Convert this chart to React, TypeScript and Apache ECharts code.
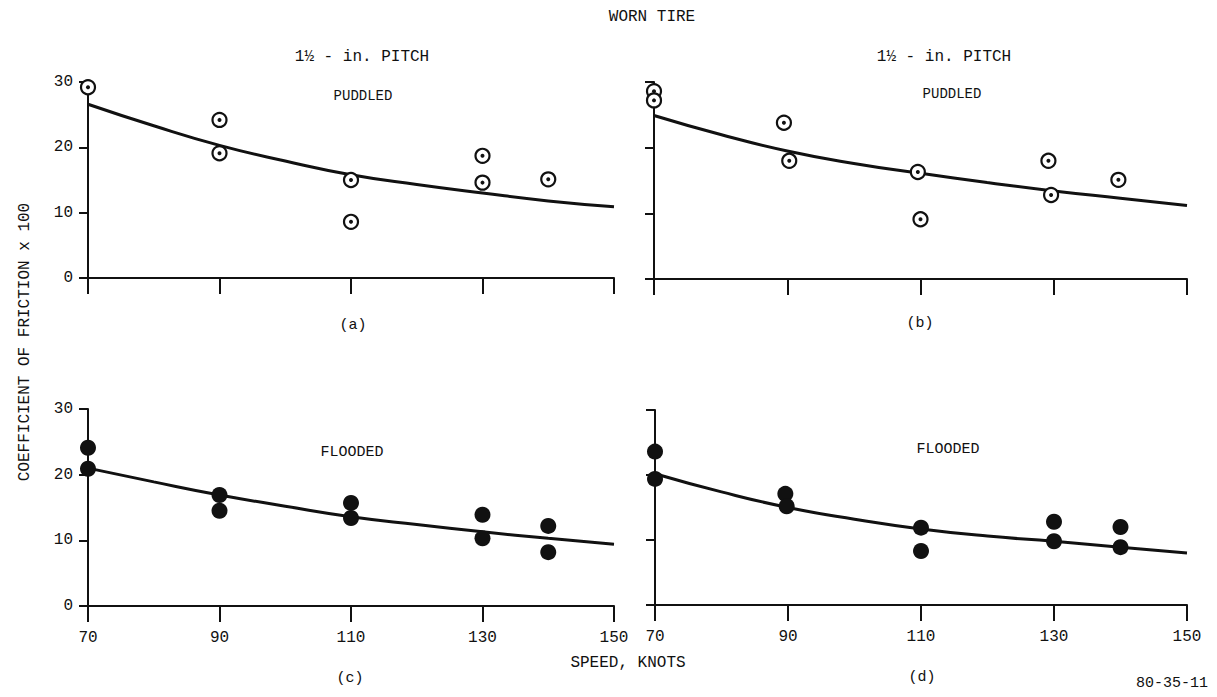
import React, { useEffect, useRef } from "react";
import * as echarts from "echarts";

const speedTicks = [70, 90, 110, 130, 150];
const frictionTicks = [0, 10, 20, 30];
const curveSpeeds = [70, 80, 90, 100, 110, 120, 130, 140, 150];

const curveA = [26.6, 23.3, 20.3, 17.9, 15.8, 14.3, 13.0, 11.8, 10.9];
const curveB = [24.9, 22.0, 19.5, 17.6, 16.1, 14.7, 13.4, 12.3, 11.2];
const curveC = [21.0, 18.9, 16.9, 15.2, 13.6, 12.4, 11.3, 10.3, 9.4];
const curveD = [20.2, 17.4, 15.0, 13.2, 11.7, 10.6, 9.8, 8.9, 8.0];

const pointsA = [[70, 29.2], [90, 24.2], [90, 19.1], [110, 15.0], [110, 8.6], [130, 18.7], [130, 14.6], [140, 15.1]];
const pointsB = [[70, 28.6], [70, 27.2], [89.5, 23.8], [90.3, 18.0], [109.6, 16.3], [110, 9.1], [129.2, 18.0], [129.6, 12.8], [139.7, 15.1]];
const pointsC = [[70, 24.1], [70, 20.9], [90, 16.9], [90, 14.5], [110, 15.7], [110, 13.4], [130, 13.9], [130, 10.3], [140, 12.2], [140, 8.2]];
const pointsD = [[70, 23.6], [70, 19.4], [89.6, 17.1], [89.8, 15.2], [110, 11.9], [110, 8.3], [130, 12.8], [130, 9.8], [140, 12.0], [140, 8.9]];

const FONT = "Liberation Mono";
const INK = "#111";

export default function App() {
  const ref = useRef<HTMLDivElement>(null);
  useEffect(() => {
    const chart = echarts.init(ref.current!, null, { renderer: "svg" });
    const grids = [
      { left: 88, top: 82, width: 526, height: 196 },
      { left: 654, top: 82, width: 533, height: 197 },
      { left: 88, top: 409, width: 526, height: 197 },
      { left: 655, top: 410, width: 532, height: 195 },
    ];
    const xAxes = grids.map((_, i) => ({
      type: "value",
      gridIndex: i,
      min: 70,
      max: 150,
      splitLine: { show: false },
      axisLine: { lineStyle: { color: INK, width: 2 } },
      axisTick: { customValues: speedTicks, length: 16, lineStyle: { color: INK, width: 2 } },
      axisLabel: {
        show: i >= 2,
        customValues: speedTicks,
        margin: 24,
        fontFamily: FONT,
        fontSize: 16,
        color: INK,
      },
    }));
    const yAxes = grids.map((_, i) => ({
      type: "value",
      gridIndex: i,
      min: 0,
      max: 30,
      interval: 10,
      splitLine: { show: false },
      axisLine: { lineStyle: { color: INK, width: 2 } },
      axisTick: { length: 9, lineStyle: { color: INK, width: 2 } },
      axisLabel: {
        show: i % 2 === 0,
        customValues: frictionTicks,
        margin: 15,
        fontFamily: FONT,
        fontSize: 16,
        color: INK,
      },
    }));
    const curves = [curveA, curveB, curveC, curveD];
    const series: any[] = [];
    curves.forEach((c, i) => {
      series.push({
        type: "line",
        xAxisIndex: i,
        yAxisIndex: i,
        data: curveSpeeds.map((s, k) => [s, c[k]]),
        smooth: 0.5,
        showSymbol: false,
        lineStyle: { color: INK, width: 3 },
        z: 2,
      });
    });
    [pointsA, pointsB].forEach((p, i) => {
      series.push({
        type: "scatter",
        xAxisIndex: i,
        yAxisIndex: i,
        data: p,
        symbol: "circle",
        symbolSize: 14,
        clip: false,
        itemStyle: { color: "#fff", borderColor: INK, borderWidth: 2.2, opacity: 1 },
        z: 3,
      });
      series.push({
        type: "scatter",
        xAxisIndex: i,
        yAxisIndex: i,
        data: p,
        symbol: "circle",
        symbolSize: 4,
        clip: false,
        itemStyle: { color: INK, opacity: 1 },
        z: 4,
      });
    });
    [pointsC, pointsD].forEach((p, j) => {
      const i = j + 2;
      series.push({
        type: "scatter",
        xAxisIndex: i,
        yAxisIndex: i,
        data: p,
        symbol: "circle",
        symbolSize: 16,
        clip: false,
        itemStyle: { color: INK, opacity: 1 },
        z: 3,
      });
    });

    const txt = (text: string, x: number, y: number, size = 15, extra: any = {}) => ({
      type: "text",
      x,
      y,
      style: {
        text,
        fontFamily: FONT,
        fontSize: size,
        fill: INK,
        align: "center",
        verticalAlign: "middle",
      },
      ...extra,
    });

    chart.setOption({
      animation: false,
      backgroundColor: "#fff",
      grid: grids,
      xAxis: xAxes,
      yAxis: yAxes,
      series,
      graphic: [
        txt("WORN TIRE", 652, 17, 16),
        txt("1½ - in. PITCH", 362, 57, 16),
        txt("1½ - in. PITCH", 944, 57, 16),
        txt("PUDDLED", 363, 96, 14),
        txt("PUDDLED", 952, 94, 14),
        txt("FLOODED", 352, 452, 15),
        txt("FLOODED", 948, 449, 15),
        txt("(a)", 353, 325, 15),
        txt("(b)", 920, 323, 15),
        txt("(c)", 350, 678, 15),
        txt("(d)", 922, 677, 15),
        txt("SPEED, KNOTS", 628, 663, 16),
        txt("80-35-11", 1172, 683, 15),
        txt("COEFFICIENT OF FRICTION x 100", 25, 342, 16, { rotation: Math.PI / 2 }),
      ],
    });
    return () => chart.dispose();
  }, []);
  return (
    <div
      ref={ref}
      style={{ position: "fixed", left: 0, top: 0, width: 1217, height: 697, background: "#fff" }}
    />
  );
}
